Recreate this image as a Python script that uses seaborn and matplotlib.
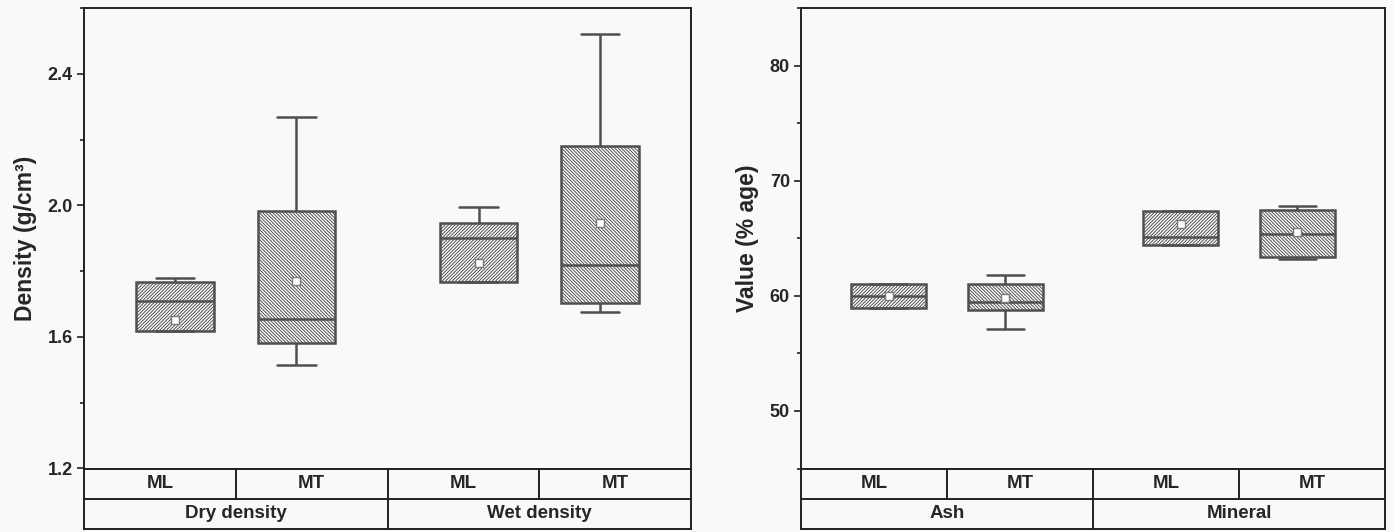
import numpy as np
import pandas as pd
import matplotlib
matplotlib.use("Agg")
import matplotlib.pyplot as plt
import seaborn as sns
from matplotlib.ticker import MultipleLocator, AutoMinorLocator

# five-number summaries: [min, q1, median, q3, max]
sites = ["ML", "MT"]

density_groups = ["Dry density", "Wet density"]
dry_ml = [1.617, 1.617, 1.710, 1.766, 1.778]
dry_mt = [1.515, 1.583, 1.655, 1.982, 2.270]
wet_ml = [1.766, 1.766, 1.901, 1.945, 1.995]
wet_mt = [1.676, 1.703, 1.818, 2.181, 2.520]
density_means = [1.652, 1.771, 1.826, 1.945]  # dry ML, dry MT, wet ML, wet MT

value_groups = ["Ash", "Mineral"]
ash_ml = [58.93, 58.93, 60.00, 61.00, 61.00]
ash_mt = [57.11, 58.73, 59.50, 61.00, 61.85]
min_ml = [64.41, 64.41, 65.09, 67.37, 67.37]
min_mt = [63.22, 63.37, 65.41, 67.49, 67.84]
value_means = [59.95, 59.80, 66.27, 65.50]


def long_frame(groups, series):
    rows = []
    for (g, s), vals in zip([(g, s) for g in groups for s in sites], series):
        for v in vals:
            rows.append({"group": g, "site": s, "value": v})
    return pd.DataFrame(rows)


def mean_frame(groups, means):
    keys = [(g, s) for g in groups for s in sites]
    return pd.DataFrame({"group": [k[0] for k in keys],
                         "site": [k[1] for k in keys],
                         "value": means})


sns.set_theme(style="ticks")
narrow = ["Liberation Sans Narrow", "Liberation Sans", "DejaVu Sans"]
plt.rcParams["font.family"] = narrow
plt.rcParams["hatch.color"] = "#8a8a8a"
plt.rcParams["hatch.linewidth"] = 0.7

BG = "#f9f9f9"
LINE = "#4f4f4f"

fig = plt.figure(figsize=(13.93, 5.32), dpi=100, facecolor=BG)


def panel(left, width, groups, series, means, ylim, major, fmt, ylabel):
    ax = fig.add_axes([left, 1 - 468.5 / 532, width, (468.5 - 8) / 532])
    ax.set_facecolor(BG)
    df = long_frame(groups, series)
    sns.boxplot(data=df, x="group", y="value", hue="site", order=groups,
                hue_order=sites, dodge=True, whis=np.inf, gap=0.36,
                palette={"ML": "white", "MT": "white"}, linecolor=LINE,
                linewidth=1.8, legend=False, ax=ax)
    # hatch direction by site: ML '/', MT '\'
    for p in ax.patches:
        xs = p.get_path().vertices[:, 0]
        cx = (xs.min() + xs.max()) / 2
        p.set_hatch("/" * 10 if cx < round(cx) else "\\" * 10)
        p.set_facecolor("white")
    sns.stripplot(data=mean_frame(groups, means), x="group", y="value",
                  hue="site", order=groups, hue_order=sites, dodge=True,
                  jitter=False, marker="s", size=6,
                  palette={"ML": "white", "MT": "white"},
                  edgecolor="#7a7a7a", linewidth=1.0, legend=False, ax=ax,
                  zorder=5)
    ax.set_xlim(-0.5, 1.5)
    ax.set_ylim(*ylim)
    ax.set_xticks([])
    ax.set_xlabel("")
    ax.yaxis.set_major_locator(MultipleLocator(major))
    ax.yaxis.set_minor_locator(AutoMinorLocator(2))
    ax.yaxis.set_major_formatter(fmt)
    ax.tick_params(axis="y", which="major", direction="out", length=5,
                   width=1.2, color="#222222", labelsize=13, pad=3)
    ax.tick_params(axis="y", which="minor", direction="out", length=3,
                   width=1.2, color="#222222")
    for lab in ax.get_yticklabels():
        lab.set_fontweight("bold")
    for sp in ax.spines.values():
        sp.set_visible(True)
        sp.set_color("#222222")
        sp.set_linewidth(1.4)
    ax.set_ylabel(ylabel, fontsize=16.5, fontweight="bold",
                  family=["Liberation Sans", "DejaVu Sans"], labelpad=8)

    # category table below the plot
    tb = fig.add_axes([left, 3 / 532, width, (529 - 468.5) / 532])
    tb.set_facecolor(BG)
    tb.set_xlim(0, 4)
    tb.set_ylim(0, 2)
    tb.set_xticks([])
    tb.set_yticks([])
    for sp in tb.spines.values():
        sp.set_color("#222222")
        sp.set_linewidth(1.4)
    tb.axhline(1, color="#222222", lw=1.4)
    tb.plot([2, 2], [0, 2], color="#222222", lw=1.4)
    for k in (1, 3):
        tb.plot([k, k], [1, 2], color="#222222", lw=1.4)
    for i, g in enumerate(groups):
        tb.text(2 * i + 1, 0.5, g, ha="center", va="center", fontsize=13.5,
                fontweight="bold")
        for j, s in enumerate(sites):
            tb.text(2 * i + j + 0.5, 1.5, s, ha="center", va="center",
                    fontsize=13.5, fontweight="bold")
    return ax


panel(84 / 1393, 607 / 1393, density_groups, [dry_ml, dry_mt, wet_ml, wet_mt],
      density_means, (1.2, 2.6), 0.4, "{x:.1f}", "Density (g/cm³)")
panel(801 / 1393, 584 / 1393, value_groups, [ash_ml, ash_mt, min_ml, min_mt],
      value_means, (45, 85), 10, "{x:.0f}", "Value (% age)")

fig.savefig("out.png", dpi=100, facecolor=BG)
